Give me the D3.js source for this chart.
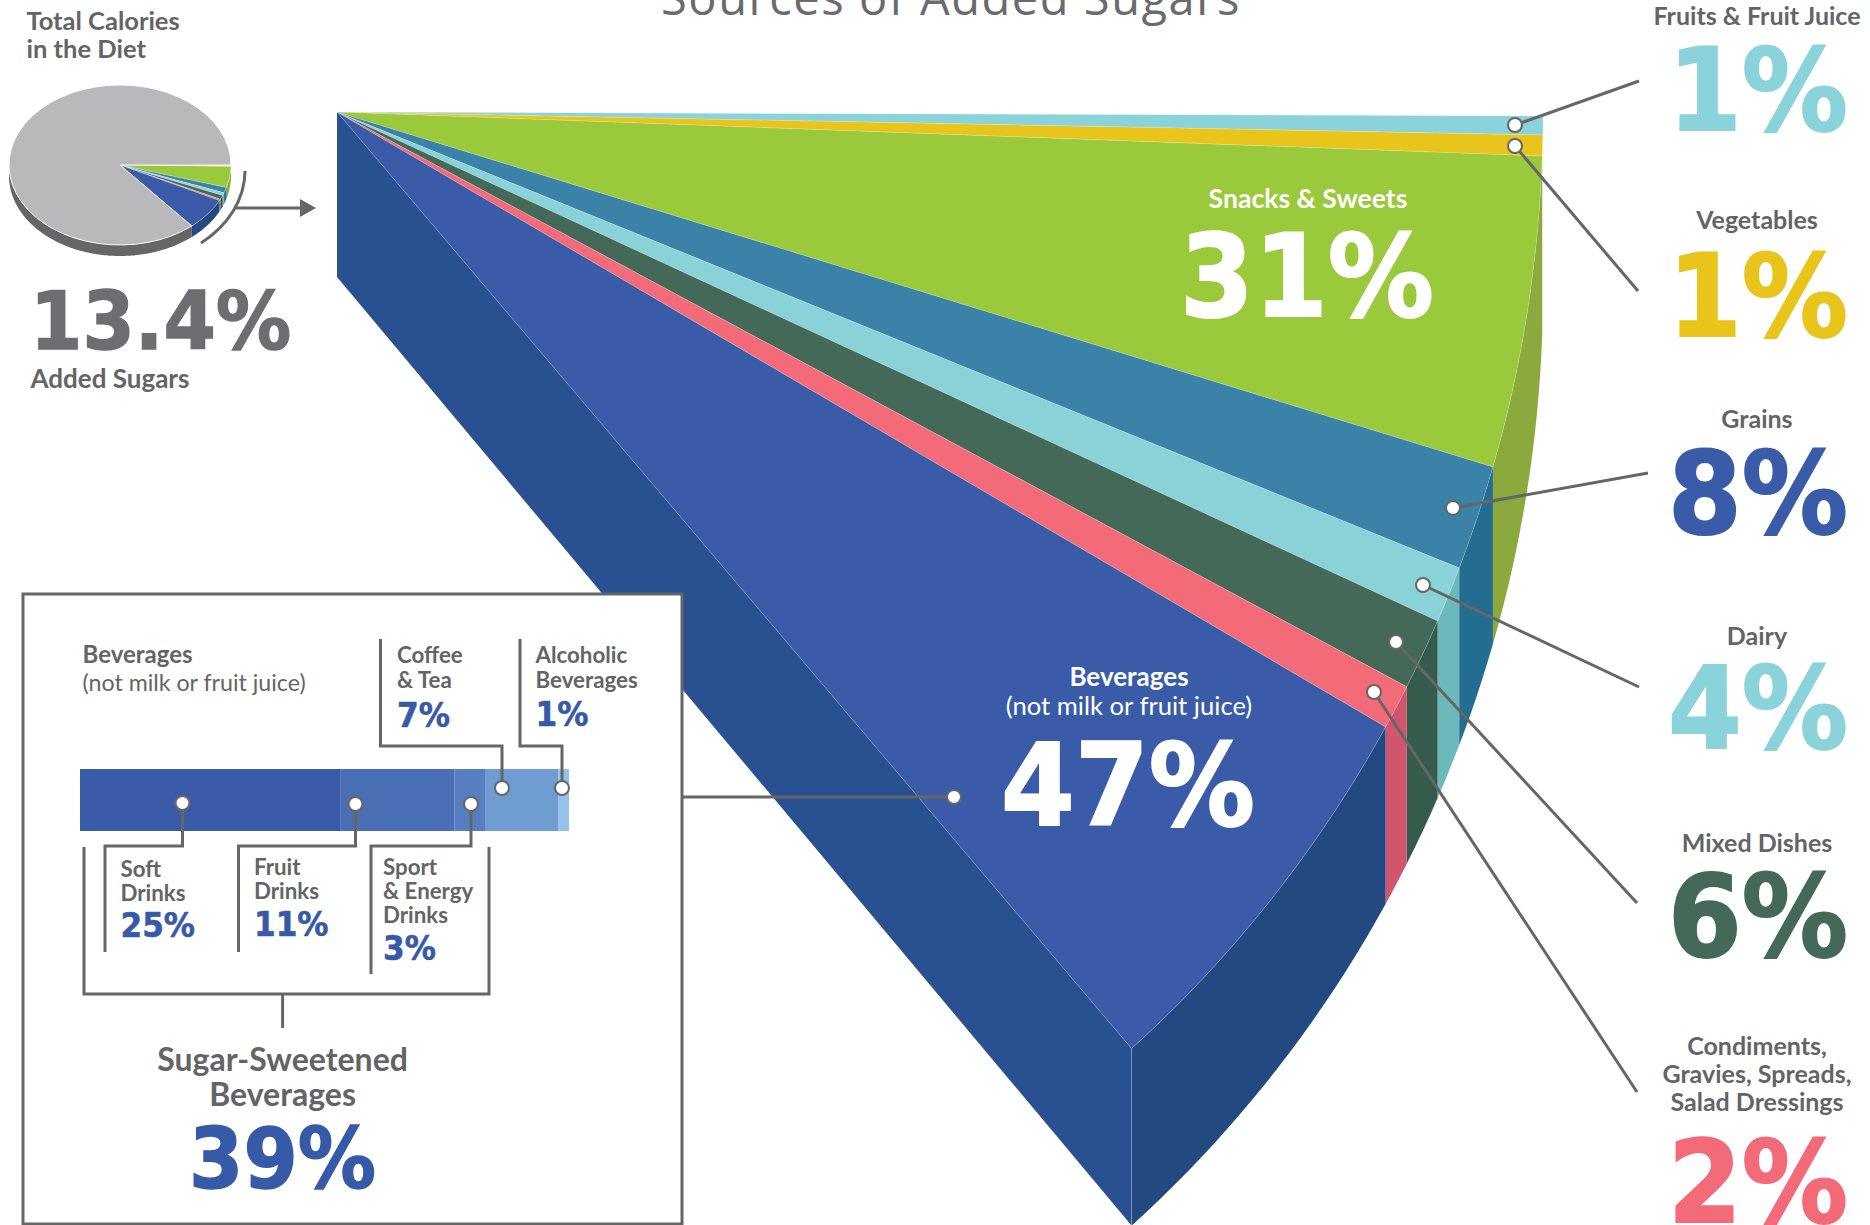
<!DOCTYPE html>
<html>
<head>
<meta charset="utf-8">
<script src="https://cdn.jsdelivr.net/npm/d3@7"></script>
<style>
  html, body { margin: 0; padding: 0; background: #fff; overflow: hidden; }
  svg { display: block; }
  text { font-family: "Lato", sans-serif; }
</style>
</head>
<body>
<script>
// Sources of added sugars, percent of added sugar intake
const sourceNames = ["Fruits & Fruit Juice", "Vegetables", "Snacks & Sweets", "Grains", "Dairy", "Mixed Dishes", "Condiments, Gravies, Spreads, Salad Dressings", "Beverages (not milk or fruit juice)"];
const sourceValues = [1, 1, 31, 8, 4, 6, 2, 47];
const faceColors = ["#8ad3da", "#e9c51c", "#9aca3c", "#3b82a8", "#88d2d8", "#456959", "#f36a78", "#3a5ca8"];
const wallColors = ["#8ba93c", "#8ba93c", "#8ba93c", "#226d90", "#6bb9bb", "#345b4c", "#d0566f", "#224a80"];

// Added sugars as a share of total calories
const addedSugarShare = 13.4;
// the little pie is drawn a touch fuller than its label says
const drawnPieShare = 13.8;

// Beverages broken down
const beverageNames = ["Soft Drinks", "Fruit Drinks", "Sport & Energy Drinks", "Coffee & Tea", "Alcoholic Beverages"];
const beverageValues = [25, 11, 3, 7, 1];
const beverageColors = ["#3a5ca8", "#4b6fb5", "#567ec0", "#6f9dd2", "#93c2ea"];
const sugarSweetenedTotal = 39;

// How far round the drawn ellipse each slice boundary falls (the big pie is not to scale)
const rimAngles = [0.0032, 0.0185, 0.0354, 0.2892, 0.375, 0.4212, 0.4799, 0.5166, 0.8515];

const width = 1870, height = 1225;
const grey = "#636466", leaderGrey = "#666", titleGrey = "#6a6b6d", blue = "#375aa8";

const svg = d3.select("body").append("svg")
  .attr("width", width)
  .attr("height", height)
  .attr("viewBox", `0 0 ${width} ${height}`);

const line = d3.line();

function text(x, y, str, size, fill, weight, anchor) {
  return svg.append("text")
    .attr("x", x).attr("y", y)
    .attr("font-size", size)
    .attr("font-weight", weight || 700)
    .attr("fill", fill || grey)
    .attr("text-anchor", anchor || "start")
    .text(str);
}

// the big percentages: heavy, slightly squeezed
function number(x, y, str, size, fill, anchor) {
  const t = text(x, y, str, size, fill, 700, anchor).style("font-family", "'DejaVu Sans'");
  t.attr("textLength", t.node().getComputedTextLength() * 0.93)
    .attr("lengthAdjust", "spacingAndGlyphs")
    .attr("stroke", fill)
    .attr("stroke-width", size * 0.018);
  return t;
}

function polyline(points, w) {
  return svg.append("path")
    .attr("d", line(points))
    .attr("fill", "none")
    .attr("stroke", leaderGrey)
    .attr("stroke-width", w || 3);
}

function dot(x, y, r) {
  svg.append("circle")
    .attr("cx", x).attr("cy", y).attr("r", r || 7)
    .attr("fill", "#fff")
    .attr("stroke", leaderGrey)
    .attr("stroke-width", 2);
}

// points along an ellipse from t0 to t1
function rimPoints(el, t0, t1, dy) {
  const n = Math.max(2, Math.ceil(Math.abs(t1 - t0) * 60));
  return d3.range(n + 1).map(i => {
    const t = t0 + (t1 - t0) * i / n;
    return [el.cx + el.a * Math.cos(t), el.cy + el.b * Math.sin(t) + (dy || 0)];
  });
}

function wallPath(el, t0, t1) {
  return line(rimPoints(el, t0, t1).concat(rimPoints(el, t1, t0, el.depth))) + "Z";
}

function facePath(el, t0, t1) {
  return line([[el.cx, el.cy]].concat(rimPoints(el, t0, t1))) + "Z";
}

// ---- title
text(951, 15, "Sources of Added Sugars", 47, titleGrey, 400, "middle")
  .style("font-family", "'Open Sans'")
  .attr("letter-spacing", 1.55);

// ---- big exploded slice
const big = { cx: 337, cy: 112, a: 1206, b: 1245, depth: 177 };
const apexDepth = 165;
const cumulative = [0].concat(Array.from(d3.cumsum(sourceValues)));
const rimAngle = d3.scaleLinear().domain(cumulative).range(rimAngles);
const bigSlices = sourceValues.map((v, i) => ({
  name: sourceNames[i],
  t0: rimAngle(cumulative[i]),
  t1: rimAngle(cumulative[i + 1]),
  face: faceColors[i],
  wall: wallColors[i]
}));

// left cut side of the slice
const lastT = rimAngle(100);
const tip = rimPoints(big, lastT, lastT)[0];
svg.append("path")
  .attr("d", line([[big.cx, big.cy], tip, [tip[0], tip[1] + big.depth], [big.cx, big.cy + apexDepth]]) + "Z")
  .attr("fill", "#295090");

svg.append("g").selectAll("path")
  .data(bigSlices.slice(2))
  .join("path")
  .attr("d", d => wallPath(big, d.t0, d.t1))
  .attr("fill", d => d.wall);

svg.append("g").selectAll("path")
  .data(bigSlices)
  .join("path")
  .attr("d", d => facePath(big, d.t0, d.t1))
  .attr("fill", d => d.face)
  .attr("stroke", "#fff")
  .attr("stroke-opacity", 0.22)
  .attr("stroke-width", 0.8);

svg.append("path")
  .attr("d", line([tip, [tip[0], tip[1] + big.depth]]))
  .attr("stroke", "#fff").attr("stroke-opacity", 0.3).attr("stroke-width", 0.8);

// ---- small pie
const small = { cx: 120, cy: 165, a: 111, b: 80, depth: 11 };
const pieValues = sourceValues.map(v => v * drawnPieShare / 100).concat(100 - drawnPieShare);
const pieArcs = d3.pie().sort(null).startAngle(Math.PI / 2).endAngle(Math.PI * 2.5)(pieValues);
const pieFaces = faceColors.concat("#b9b9bb");
const pieWalls = wallColors.concat("#666");

svg.append("g").selectAll("path")
  .data(pieArcs.slice(2))
  .join("path")
  .attr("d", d => wallPath(small, d.startAngle - Math.PI / 2, Math.min(d.endAngle - Math.PI / 2, Math.PI)))
  .attr("fill", d => pieWalls[d.index]);

const arc = d3.arc().innerRadius(0).outerRadius(small.a);
svg.append("g")
  .attr("transform", `translate(${small.cx},${small.cy}) scale(1,${small.b / small.a})`)
  .selectAll("path")
  .data(pieArcs)
  .join("path")
  .attr("d", arc)
  .attr("fill", d => pieFaces[d.index])
  .attr("stroke", "#fff")
  .attr("stroke-opacity", d => d.index === pieValues.length - 1 ? 1 : 0.3)
  .attr("stroke-width", 1);

// bracket and arrow from the pie to the big slice
svg.append("path")
  .attr("d", "M245,171A125,95 0 0 1 201,243")
  .attr("fill", "none").attr("stroke", leaderGrey).attr("stroke-width", 3);
polyline([[235, 208], [302, 208]]);
svg.append("path").attr("d", "M300,199L316,208L300,217Z").attr("fill", leaderGrey);

text(26.5, 29.5, "Total Calories", 25.5, grey);
text(26.5, 58, "in the Diet", 25.5, grey);
number(30, 349, addedSugarShare + "%", 81, "#6d6e71");
text(30.5, 388, "Added Sugars", 26, grey);

// ---- labels inside the big slice
text(1308, 208, sourceNames[2], 26.6, "#fff", 700, "middle");
number(1307, 316, sourceValues[2] + "%", 114, "#fff", "middle");
text(1129, 686, "Beverages", 26, "#fff", 700, "middle");
text(1129, 715, "(not milk or fruit juice)", 25.6, "#fff", 400, "middle");
number(1128, 825, sourceValues[7] + "%", 114, "#fff", "middle");

// ---- callouts on the right
const calloutOrder = [0, 1, 3, 4, 5, 6];
const calloutLines = [["Fruits & Fruit Juice"], ["Vegetables"], ["Grains"], ["Dairy"], ["Mixed Dishes"], ["Condiments,", "Gravies, Spreads,", "Salad Dressings"]];
const calloutLabelY = [25, 229, 428, 645, 852, 1055];
const calloutNumberY = [130, 336, 533, 748, 956, 1222];
const calloutColors = ["#8ad3da", "#e9c51c", "#3a5ca8", "#8ad3da", "#456959", "#f36a78"];
const calloutDots = [[1515, 125], [1515, 146], [1453, 508], [1423, 585], [1396, 642], [1374, 692]];
const calloutEnds = [[1639, 81], [1638, 291], [1648, 473], [1639, 687], [1637, 903], [1637, 1092]];

calloutOrder.forEach((s, i) => {
  polyline([calloutDots[i], calloutEnds[i]]);
  dot(calloutDots[i][0], calloutDots[i][1]);
  calloutLines[i].forEach((l, j) => text(1757, calloutLabelY[i] + j * 28, l, 25, grey, 700, "middle"));
  number(1848, calloutNumberY[i], sourceValues[s] + "%", 114, calloutColors[i], "end");
});

// ---- beverages box
svg.append("rect")
  .attr("x", 23).attr("y", 594)
  .attr("width", 659).attr("height", 630)
  .attr("fill", "#fff")
  .attr("stroke", leaderGrey)
  .attr("stroke-width", 3);

polyline([[682, 797], [954, 797]]);
dot(954, 797);

const barX = d3.scaleLinear().domain([0, d3.sum(beverageValues)]).range([80, 569]);
const barStart = [0].concat(Array.from(d3.cumsum(beverageValues)));
svg.append("g").selectAll("rect")
  .data(beverageValues)
  .join("rect")
  .attr("x", (d, i) => barX(barStart[i]))
  .attr("width", d => barX(d) - barX(0))
  .attr("y", 769)
  .attr("height", 62)
  .attr("fill", (d, i) => beverageColors[i]);

// leaders inside the box
polyline([[182.5, 803], [182.5, 846], [105, 846], [105, 952]]);
polyline([[355.5, 804], [355.5, 846], [238.5, 846], [238.5, 952]]);
polyline([[471, 804], [471, 846], [371, 846], [371, 974]]);
polyline([[380.5, 639], [380.5, 746], [502, 746], [502, 788]]);
polyline([[520, 639], [520, 746], [562, 746], [562, 788]]);
polyline([[84, 847], [84, 994], [489, 994], [489, 847]]);
polyline([[282.6, 994], [282.6, 1028]]);
[[182.5, 803], [355.5, 804], [471, 804], [502, 788], [562, 788]].forEach(p => dot(p[0], p[1], 7));

text(82.5, 663, "Beverages", 24, grey);
text(82.5, 691, "(not milk or fruit juice)", 23.2, grey, 400);

const smallLabel = 22.3, smallNumber = 33.5;
text(397, 663, "Coffee", smallLabel, grey);
text(397, 688, "& Tea", smallLabel, grey);
number(397, 727, beverageValues[3] + "%", smallNumber, blue);
text(535.5, 663, "Alcoholic", smallLabel, grey);
text(535.5, 688, "Beverages", smallLabel, grey);
number(535.5, 726, beverageValues[4] + "%", smallNumber, blue);
text(120.5, 877, "Soft", smallLabel, grey);
text(120.5, 901, "Drinks", smallLabel, grey);
number(120.5, 937, beverageValues[0] + "%", smallNumber, blue);
text(254, 875, "Fruit", smallLabel, grey);
text(254, 899, "Drinks", smallLabel, grey);
number(254, 936, beverageValues[1] + "%", smallNumber, blue);
text(383, 875, "Sport", smallLabel, grey);
text(383, 899, "& Energy", smallLabel, grey);
text(383, 923, "Drinks", smallLabel, grey);
number(383, 960, beverageValues[2] + "%", smallNumber, blue);

text(282.6, 1071, "Sugar-Sweetened", 32, grey, 700, "middle");
text(282.6, 1106, "Beverages", 32, grey, 700, "middle");
number(282.6, 1188, sugarSweetenedTotal + "%", 84, blue, "middle");
</script>
</body>
</html>
